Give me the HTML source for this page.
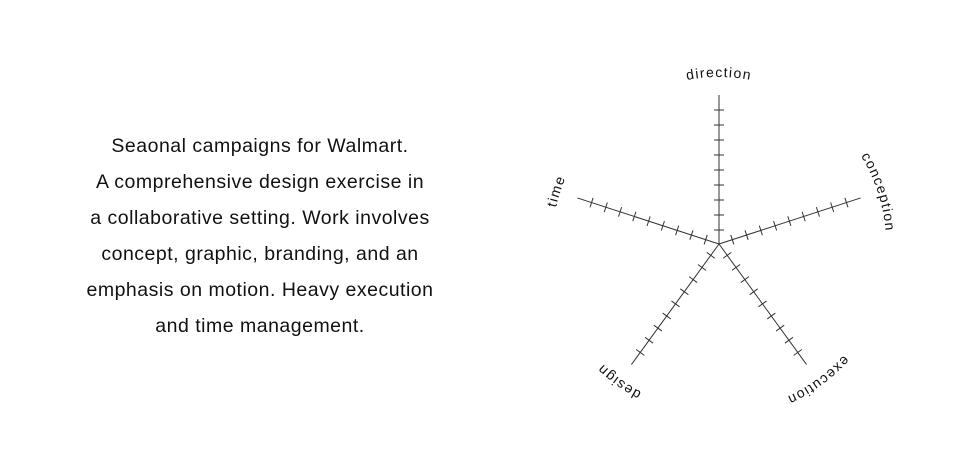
<!DOCTYPE html>
<html><head><meta charset="utf-8"><style>
html,body{margin:0;padding:0;background:#fff;width:960px;height:469px;overflow:hidden}
.t{position:absolute;left:40px;width:440px;top:128px;text-align:center;font-family:"Liberation Sans",sans-serif;font-size:19.5px;letter-spacing:0.5px;line-height:36px;color:#111}
svg{position:absolute;left:0;top:0}
</style></head><body>
<div class="t">Seaonal campaigns for Walmart.<br>A comprehensive design exercise in<br>a collaborative setting. Work involves<br>concept, graphic, branding, and an<br>emphasis on motion. Heavy execution<br>and time management.</div>
<svg width="960" height="469" viewBox="0 0 960 469">
<defs>
<path id="c" d="M719,411 A167,167 0 0 1 719,77 A167,167 0 0 1 719,411" fill="none"/>
<g id="ax" stroke="#333" stroke-width="1">
<line x1="0" y1="0" x2="0" y2="-149"/>
<line x1="-5" y1="-14" x2="5" y2="-14"/><line x1="-5" y1="-29" x2="5" y2="-29"/>
<line x1="-5" y1="-44" x2="5" y2="-44"/><line x1="-5" y1="-59" x2="5" y2="-59"/>
<line x1="-5" y1="-74" x2="5" y2="-74"/><line x1="-5" y1="-89" x2="5" y2="-89"/>
<line x1="-5" y1="-104" x2="5" y2="-104"/><line x1="-5" y1="-119" x2="5" y2="-119"/>
<line x1="-5" y1="-134" x2="5" y2="-134"/>
</g>
</defs>
<g transform="translate(719,244)">
<use href="#ax"/>
<use href="#ax" transform="rotate(72)"/>
<use href="#ax" transform="rotate(144)"/>
<use href="#ax" transform="rotate(216)"/>
<use href="#ax" transform="rotate(288)"/>
</g>
<g font-family="Liberation Sans, sans-serif" font-size="14" fill="#111" text-anchor="middle" letter-spacing="1.3">
<text><textPath href="#c" startOffset="50%">direction</textPath></text>
<text><textPath href="#c" startOffset="70%">conception</textPath></text>
<text><textPath href="#c" startOffset="90%">execution</textPath></text>
<text><textPath href="#c" startOffset="10%">design</textPath></text>
<text><textPath href="#c" startOffset="30%">time</textPath></text>
</g>
</svg>
</body></html>
